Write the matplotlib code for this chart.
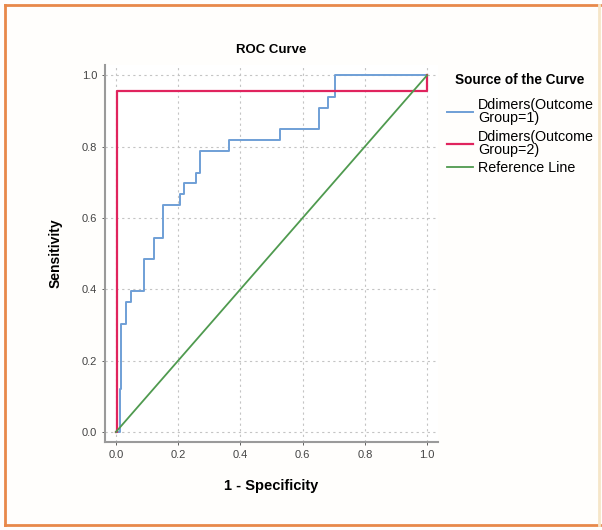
import matplotlib
matplotlib.use("Agg")
import matplotlib.pyplot as plt
from matplotlib.lines import Line2D

plt.rcParams['font.family'] = ['Liberation Sans', 'DejaVu Sans']

# ROC points (upper corners of each step)
fpr_g1 = [0, 0.012, 0.018, 0.031, 0.05, 0.09, 0.122, 0.152, 0.206, 0.219,
          0.259, 0.27, 0.364, 0.527, 0.653, 0.683, 0.704, 1.0]
tpr_g1 = [0, 0.121, 0.303, 0.364, 0.394, 0.485, 0.545, 0.636, 0.667, 0.697,
          0.727, 0.788, 0.818, 0.848, 0.909, 0.939, 1.0, 1.0]

fpr_g2 = [0, 0.004, 1.0, 1.0]
tpr_g2 = [0, 0.956, 0.956, 1.0]

ref_x = [0, 1]
ref_y = [0, 1]

ticks = [0.0, 0.2, 0.4, 0.6, 0.8, 1.0]
labels = ["Ddimers(Outcome\nGroup=1)", "Ddimers(Outcome\nGroup=2)", "Reference Line"]
colors = ["#6f9fd6", "#e0245e", "#4f9a4f"]

fig = plt.figure(figsize=(6.02, 5.30), dpi=100)
fig.patch.set_facecolor("#fffefc")

# orange frame: strong on left/top/bottom, faint on the right
orange = "#e8894a"
for xs, ys, c in [([0.008, 0.008], [0.01, 0.99], orange),
                  ([0.008, 0.996], [0.99, 0.99], orange),
                  ([0.008, 0.996], [0.01, 0.01], orange),
                  ([0.995, 0.995], [0.01, 0.99], "#f6e6c8")]:
    fig.add_artist(Line2D(xs, ys, transform=fig.transFigure, color=c, lw=2.0))

ax = fig.add_axes([0.1744, 0.166, 0.5532, 0.711])
ax.set_facecolor("white")

ax.plot(fpr_g1, tpr_g1, drawstyle="steps-post", color=colors[0], lw=1.4, label=labels[0])
ax.plot(fpr_g2, tpr_g2, drawstyle="steps-post", color=colors[1], lw=1.6, label=labels[1])
ax.plot(ref_x, ref_y, color=colors[2], lw=1.3, label=labels[2])

ax.set_xlim(-0.035, 1.035)
ax.set_ylim(-0.028, 1.028)
ax.set_xticks(ticks)
ax.set_yticks(ticks)
ax.set_xticklabels([f"{t:.1f}" for t in ticks])
ax.set_yticklabels([f"{t:.1f}" for t in ticks])
ax.tick_params(labelsize=8, colors="#444444", length=2, width=0.6)
ax.grid(True, color="#c4c4c4", linestyle=(0, (2, 3)), linewidth=0.8)
ax.set_axisbelow(True)

for side in ["top", "right"]:
    ax.spines[side].set_visible(False)
for side in ["left", "bottom"]:
    ax.spines[side].set_color("#9a9a9a")
    ax.spines[side].set_linewidth(1.5)

ax.set_title("ROC Curve", fontsize=9.5, fontweight="bold", pad=9)
ax.set_xlabel("1 - Specificity", fontsize=10.5, fontweight="bold", labelpad=14)
ax.set_ylabel("Sensitivity", fontsize=10, fontweight="bold", labelpad=14)

fig.text(455 / 602, 1 - 80 / 530, "Source of the Curve", fontsize=9.8,
         fontweight="bold", va="center", ha="left")

leg = ax.legend(loc="upper left", bbox_to_anchor=(437 / 602, 1 - 88 / 530),
                bbox_transform=fig.transFigure, frameon=False, fontsize=10.3,
                handlelength=1.85, handletextpad=0.3, labelspacing=0.3,
                borderpad=0.2)
for t in leg.get_texts():
    t.set_linespacing(0.95)

fig.savefig("out.png", dpi=100, facecolor=fig.get_facecolor())
